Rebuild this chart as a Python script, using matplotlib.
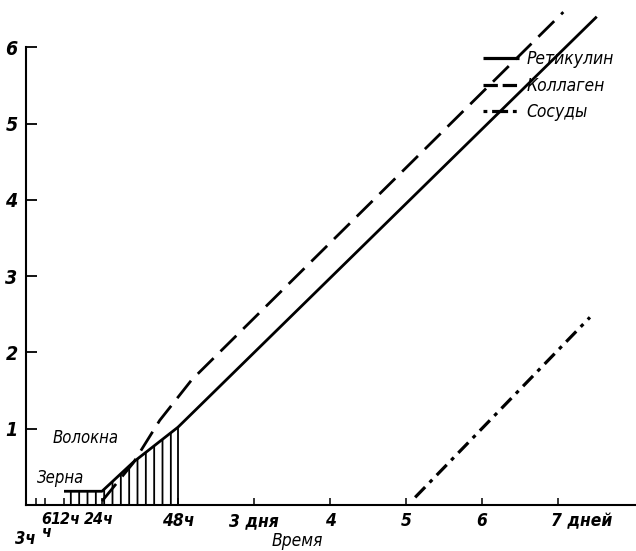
import matplotlib
matplotlib.use('Agg')
import matplotlib.pyplot as plt
from matplotlib.lines import Line2D

plt.rcParams['font.family'] = ['Liberation Sans Narrow', 'DejaVu Sans']
plt.rcParams['font.style'] = 'italic'
plt.rcParams['font.stretch'] = 'condensed'
plt.rcParams['hatch.linewidth'] = 1.3

# time axis is in days
tick_days = [0.125, 0.25, 0.5, 1, 2, 3, 4, 5, 6, 7]
tick_labels = ['3ч', '6\nч', '12ч', '24ч', '48ч', '3 дня', '4', '5', '6', '7 дней']
y_ticks = [1, 2, 3, 4, 5, 6]

# Ретикулин (solid)
ret_days = [0.5, 1.0, 1.41, 2.0, 7.51]
ret_vals = [0.18, 0.18, 0.56, 1.02, 6.40]
# Коллаген (dashed)
col_days = [1.0, 1.41, 1.76, 2.18, 7.07]
col_vals = [0.05, 0.55, 1.11, 1.64, 6.46]
# Сосуды (dash-dot)
ves_days = [5.12, 7.42]
ves_vals = [0.10, 2.46]

# shaded part under reticulin: 12ч .. 48ч
hatch_days = ret_days[:4]
hatch_vals = ret_vals[:4]

W, H = 636, 551
fig = plt.figure(figsize=(W / 100, H / 100), dpi=100)
x0, y0 = 26, 505          # pixel position of the origin
sx, sy = 76.0, 76.3       # pixels per unit
ax = fig.add_axes([x0 / W, (H - y0) / H, (W - x0) / W, y0 / H])
ax.set_xlim(0, (W - x0) / sx)
ax.set_ylim(0, y0 / sy)

for s in ['top', 'right']:
    ax.spines[s].set_visible(False)
ax.spines['left'].set_bounds(0, 6)
ax.spines['left'].set_linewidth(1.5)
ax.spines['bottom'].set_linewidth(1.5)

ax.set_yticks(y_ticks)
ax.set_yticklabels([str(v) for v in y_ticks], fontsize=14, fontweight='bold')
ax.tick_params(axis='y', direction='in', length=8, width=1.3, pad=6)
ax.set_xticks(tick_days)
ax.tick_params(axis='x', direction='in', length=5, width=1.1, labelbottom=False)

# x tick labels, drawn by hand because some sit on two rows
for d, lab in zip(tick_days, tick_labels):
    dx, ha, dy, fs = 0, 'center', -5, 12.5
    if lab == '3ч':
        dx, dy, fs = -7, -18, 12
    if lab == '6\nч':
        dx, fs = 1, 11.5
    if lab == '12ч':
        dx, fs = 1, 11.5
    if lab == '24ч':
        dx, fs = -2, 11.5
    if lab == '7 дней':
        dx, ha = -5, 'left'
    ax.annotate(lab, (d, 0), xycoords=('data', 'axes fraction'),
                xytext=(dx, dy), textcoords='offset points',
                ha=ha, va='top', fontsize=fs, fontweight='bold',
                linespacing=0.85, annotation_clip=False)

ax.fill_between(hatch_days, 0, hatch_vals, facecolor='none',
                edgecolor='black', hatch='||', linewidth=0)
ax.plot([hatch_days[-1], hatch_days[-1]], [0, hatch_vals[-1]], color='black', lw=1.3)

ax.plot(ret_days, ret_vals, color='black', lw=2.0, solid_capstyle='butt', clip_on=False)
ax.plot(col_days, col_vals, color='black', lw=2.0, linestyle=(0, (8, 3.5)),
        dash_capstyle='butt', clip_on=False)
ax.plot(ves_days, ves_vals, color='black', lw=2.3, linestyle=(0, (4.5, 2.0, 1.2, 2.0)),
        dash_capstyle='butt', clip_on=False)

ax.text(0.79, 0.88, 'Волокна', fontsize=12, ha='center', va='center')
ax.text(0.45, 0.35, 'Зерна', fontsize=12, ha='center', va='center')
ax.text(297 / W, 1 - 541 / H, 'Время', transform=fig.transFigure,
        fontsize=12.5, ha='center', va='center')

handles = [
    Line2D([], [], color='black', lw=2.3, solid_capstyle='butt'),
    Line2D([], [], color='black', lw=2.3, linestyle=(0, (4.5, 1.5)), dash_capstyle='butt'),
    Line2D([], [], color='black', lw=2.3, linestyle=(0, (1.2, 1.5, 5, 1.5, 1.2, 5)),
           dash_capstyle='butt'),
]
ax.legend(handles, ['Ретикулин', 'Коллаген', 'Сосуды'], loc='upper left',
          bbox_to_anchor=(483 / W, 1 - 50 / H), bbox_transform=fig.transFigure,
          frameon=False, fontsize=12.5, handlelength=2.1, handletextpad=0.4,
          labelspacing=0.5, borderpad=0, borderaxespad=0)

fig.savefig('out.png', dpi=100)
